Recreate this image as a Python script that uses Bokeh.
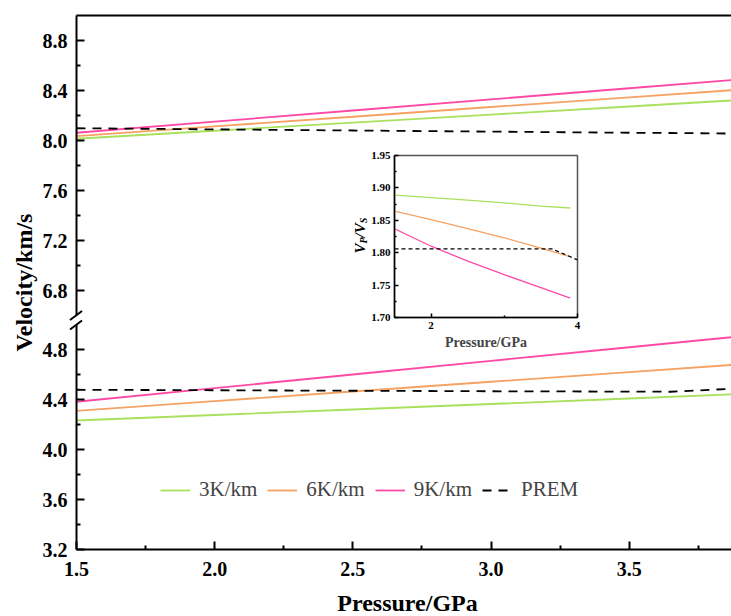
import math
from bokeh.plotting import figure
from bokeh.layouts import column
from bokeh.models import (Range1d, FixedTicker, LinearAxis, Legend, LegendItem,
                          Label, Arrow, InlineStyleSheet, PrintfTickFormatter)
from bokeh.embed import file_html
from bokeh.resources import INLINE

# ---------------- data ----------------
pressure = [1.5, 2.0, 2.5, 3.0, 3.5, 3.9]
vp_3k = [8.014, 8.078, 8.143, 8.207, 8.272, 8.324]
vp_6k = [8.035, 8.113, 8.190, 8.268, 8.345, 8.407]
vp_9k = [8.062, 8.151, 8.240, 8.329, 8.418, 8.489]
vs_3k = [4.232, 4.276, 4.320, 4.364, 4.408, 4.443]
vs_6k = [4.309, 4.387, 4.464, 4.542, 4.619, 4.681]
vs_9k = [4.382, 4.491, 4.600, 4.709, 4.818, 4.905]

prem_pressure = [1.5, 2.0, 2.5, 3.0, 3.5, 3.65, 4.0]
prem_vp = [8.098, 8.089, 8.080, 8.071, 8.062, 8.060, 8.053]
prem_vs = [4.478, 4.474, 4.470, 4.466, 4.463, 4.462, 4.500]

ratio_3k = [1.889, 1.885, 1.881, 1.877, 1.872, 1.869]
ratio_6k = [1.864, 1.851, 1.837, 1.823, 1.807, 1.794]
ratio_9k = [1.837, 1.810, 1.787, 1.766, 1.746, 1.730]
prem_ratio = [1.806, 1.806, 1.806, 1.806, 1.806, 1.806, 1.789]

series_labels = ["3K/km", "6K/km", "9K/km", "PREM"]
x_title = "Pressure/GPa"
y_title = "Velocity/km/s"

x_ticks = [1.5, 2.0, 2.5, 3.0, 3.5]
x_minor = [1.75, 2.25, 2.75, 3.25, 3.75]
vp_ticks = [6.8, 7.2, 7.6, 8.0, 8.4, 8.8]
vp_minor = [7.0, 7.4, 7.8, 8.2, 8.6]
vs_ticks = [3.2, 3.6, 4.0, 4.4, 4.8]
vs_minor = [3.4, 3.8, 4.2, 4.6]
ratio_ticks = [1.70, 1.75, 1.80, 1.85, 1.90, 1.95]
ratio_minor = [1.725, 1.775, 1.825, 1.875, 1.925]
inset_x_ticks = [2, 4]
inset_x_minor = [3]

# ---------------- style ----------------
FONT = "Liberation Serif"
C3, C6, C9 = "#a9e15e", "#f5a263", "#ff49a6"
LW = 1.8
DASH = "9 7"
W, H = 731, 616

x_range = Range1d(1.5, 3.87)
overlay_css = ":host { position: absolute !important; left: 0px !important; " \
              "top: 0px !important; z-index: %d; pointer-events: none; }"


def style_axis(ax, label_size, ticks, minor, tin, tmin, fmt, lw=2, standoff=9):
    ax.ticker = FixedTicker(ticks=ticks, minor_ticks=minor)
    ax.formatter = PrintfTickFormatter(format=fmt)
    ax.axis_line_width = lw
    ax.axis_line_color = "black"
    ax.major_tick_in = tin
    ax.major_tick_out = 0
    ax.minor_tick_in = tmin
    ax.minor_tick_out = 0
    ax.major_tick_line_width = lw
    ax.minor_tick_line_width = lw
    ax.major_label_text_font = FONT
    ax.major_label_text_font_style = "bold"
    ax.major_label_text_font_size = label_size
    ax.major_label_text_color = "black"
    ax.major_label_standoff = standoff


# ---------------- upper panel (Vp) ----------------
pu = figure(width=W, height=320, x_range=x_range, y_range=Range1d(6.6, 9.0),
            x_axis_location=None, output_backend="svg", toolbar_location=None,
            min_border_left=76, min_border_right=0, min_border_top=15,
            min_border_bottom=5)
pu.frame_align = False
pu.outline_line_color = None
pu.grid.grid_line_color = None
style_axis(pu.yaxis[0], "20px", vp_ticks, vp_minor, 8, 4, "%.1f")

top = LinearAxis(ticker=FixedTicker(ticks=[]), axis_line_width=2,
                 major_tick_in=0, major_tick_out=0, minor_tick_in=0,
                 minor_tick_out=0, major_label_text_font_size="0px",
                 major_label_standoff=0)
pu.add_layout(top, "above")

pu.line(pressure, vp_3k, line_color=C3, line_width=LW)
pu.line(pressure, vp_6k, line_color=C6, line_width=LW)
pu.line(pressure, vp_9k, line_color=C9, line_width=LW)
pu.line(prem_pressure, prem_vp, line_color="black", line_width=LW, line_dash=DASH)

# ---------------- lower panel (Vs) ----------------
pl = figure(width=W, height=296, x_range=x_range, y_range=Range1d(3.2, 5.0),
            output_backend="svg", toolbar_location=None,
            min_border_left=76, min_border_right=0, min_border_top=4,
            min_border_bottom=67)
pl.frame_align = False
pl.outline_line_color = None
pl.grid.grid_line_color = None
style_axis(pl.yaxis[0], "20px", vs_ticks, vs_minor, 8, 4, "%.1f")
style_axis(pl.xaxis[0], "20px", x_ticks, x_minor, 8, 4, "%.1f", standoff=12)

r3 = pl.line(pressure, vs_3k, line_color=C3, line_width=LW)
r6 = pl.line(pressure, vs_6k, line_color=C6, line_width=LW)
r9 = pl.line(pressure, vs_9k, line_color=C9, line_width=LW)
rp = pl.line(prem_pressure, prem_vs, line_color="black", line_width=LW, line_dash=DASH)

legend = Legend(items=[LegendItem(label=series_labels[0], renderers=[r3]),
                       LegendItem(label=series_labels[1], renderers=[r6]),
                       LegendItem(label=series_labels[2], renderers=[r9]),
                       LegendItem(label=series_labels[3], renderers=[rp])],
                orientation="horizontal", location=(84, 47),
                label_text_font=FONT, label_text_font_size="21px",
                glyph_width=30, label_standoff=9, spacing=10, padding=0,
                margin=0, border_line_color=None, background_fill_alpha=0)
pl.add_layout(legend)

# ---------------- inset (Vp/Vs), full-size transparent overlay ----------------
IL, IR, IT, IB = 394, 577, 155, 317
pi_ = figure(width=W, height=H, x_range=Range1d(1.5, 4.0),
             y_range=Range1d(1.70, 1.95), output_backend="svg",
             toolbar_location=None, min_border_left=IL, min_border_right=W - IR,
             min_border_top=IT, min_border_bottom=H - IB,
             stylesheets=[InlineStyleSheet(css=overlay_css % 10)])
pi_.frame_align = False
pi_.border_fill_alpha = 0
pi_.background_fill_color = "white"
pi_.outline_line_color = "#555555"
pi_.outline_line_width = 1.5
pi_.grid.grid_line_color = None
style_axis(pi_.yaxis[0], "11px", ratio_ticks, ratio_minor, 4, 2, "%.2f", lw=1.5, standoff=4)
style_axis(pi_.xaxis[0], "11px", inset_x_ticks, inset_x_minor, 4, 2, "%d", lw=1.5, standoff=4)
pi_.xaxis.axis_label = x_title
pi_.xaxis.axis_label_text_font = FONT
pi_.xaxis.axis_label_text_font_style = "bold"
pi_.xaxis.axis_label_text_font_size = "14px"
pi_.xaxis.axis_label_standoff = 3

ILW = 1.3
pi_.line(pressure, ratio_3k, line_color=C3, line_width=ILW)
pi_.line(pressure, ratio_6k, line_color=C6, line_width=ILW)
pi_.line(pressure, ratio_9k, line_color=C9, line_width=ILW)
pi_.line(prem_pressure, prem_ratio, line_color="black", line_width=ILW, line_dash="4 3")

# ---------------- annotation overlay (pixel frame covering whole canvas) ----------------
po = figure(width=W, height=H, x_range=Range1d(0, W), y_range=Range1d(H, 0),
            x_axis_location=None, y_axis_location=None, output_backend="svg",
            toolbar_location=None, min_border=0,
            stylesheets=[InlineStyleSheet(css=overlay_css % 20)])
po.frame_align = False
po.border_fill_alpha = 0
po.background_fill_alpha = 0
po.outline_line_color = None
po.grid.grid_line_color = None

# main axis titles
po.add_layout(Label(x=407, y=602, text=x_title, text_align="center",
                    text_baseline="alphabetic", text_font=FONT,
                    text_font_style="bold", text_font_size="24px", text_color="black"))
po.add_layout(Label(x=23, y=282, text=y_title, angle=math.pi / 2,
                    text_align="center", text_baseline="alphabetic",
                    text_font=FONT, text_font_style="bold", text_font_size="24px",
                    text_color="black"))

# inset y-axis title V_P/V_S
pieces = [("V", 15, False, 0.667), ("P", 10, True, 0.611), ("/", 15, False, 0.278),
          ("V", 15, False, 0.667), ("S", 10, True, 0.556)]
ycur = 253.0
for txt, size, sub, em in pieces:
    bx = 362.5 if sub else 359.0
    po.add_layout(Label(x=bx, y=ycur, text=txt, angle=math.pi / 2,
                        text_align="left", text_baseline="alphabetic",
                        text_font=FONT, text_font_style="bold italic",
                        text_font_size=f"{size}px", text_color="black"))
    ycur -= em * size

# axis break marks
for cy in (315.0, 324.5):
    po.add_layout(Arrow(end=None, x_start=69.5, y_start=cy + 4.5,
                        x_end=81.5, y_end=cy - 4.5,
                        line_width=2, line_color="black"))

layout = column(pu, pl, pi_, po, spacing=0,
                stylesheets=[InlineStyleSheet(css=":host { position: relative; }")])

open("out.html", "w").write(file_html(layout, INLINE))
